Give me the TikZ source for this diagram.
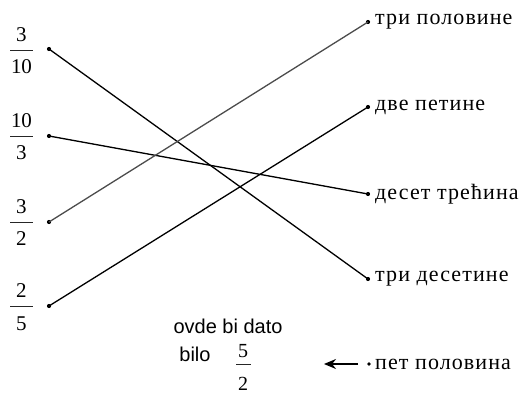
\documentclass[tikz,border=0pt]{standalone}
\usepackage{fontspec}
\setmainfont{Liberation Serif}
\setsansfont{Liberation Sans}
\newfontfamily\wordfont[LetterSpace=5]{Liberation Serif}
\usetikzlibrary{arrows.meta}
\tikzset{
  dot/.style={circle,fill=black,inner sep=0pt,minimum size=4.2pt},
  num/.style={font=\fontsize{21}{24}\selectfont,inner sep=0pt,anchor=base},
  fbar/.style={line width=0.9pt,black!85},
  word/.style={font=\wordfont\fontsize{22}{25}\selectfont,anchor=west,inner sep=0pt},
  link/.style={line width=1.3pt,black},
  note/.style={font=\sffamily\fontsize{20}{23}\selectfont,inner sep=0pt}
}
\begin{document}
\begin{tikzpicture}[x=1pt,y=-1pt]
\useasboundingbox (0,0) rectangle (528,409);
% left fractions
\node[num] (f1n) at (21.5,42) {3};
\node[num] (f1d) at (21.5,74) {10};
\draw[fbar] (10,50) -- (33,50);
\node[num] (f2n) at (21.5,128) {10};
\node[num] (f2d) at (21.5,160) {3};
\draw[fbar] (10,136) -- (33,136);
\node[num] (f3n) at (21.5,214) {3};
\node[num] (f3d) at (21.5,246) {2};
\draw[fbar] (10,222) -- (33,222);
\node[num] (f4n) at (21.5,298) {2};
\node[num] (f4d) at (21.5,330) {5};
\draw[fbar] (10,306) -- (33,306);
% left dots
\node[dot] (l1) at (49,49) {};
\node[dot] (l2) at (49,136) {};
\node[dot] (l3) at (49,222) {};
\node[dot] (l4) at (49,306) {};
% right dots
\node[dot] (r1) at (368,22) {};
\node[dot] (r2) at (368,107) {};
\node[dot] (r3) at (368,194) {};
\node[dot] (r4) at (368,279) {};
\node[dot,minimum size=3.6pt] (r5) at (369,364) {};
% right words
\node[word] (w1) at (375,22) {три половине};
\node[word] (w2) at (375,107) {две петине};
\node[word] (w3) at (375,194) {десет трећина};
\node[word] (w4) at (375,279) {три десетине};
\node[word] (w5) at (375,364) {пет половина};
% connections
\draw[link] (l1.center) -- (r4.center);
\draw[link] (l2.center) -- (r3.center);
\draw[link,black!70] (l3.center) -- (r1.center);
\draw[link] (l4.center) -- (r2.center);
% note
\node[note] (n1) at (228,326) {ovde bi dato};
\node[note] (n2) at (195,354) {bilo};
\node[num,font=\fontsize{20}{23}\selectfont] (n3n) at (243,357) {5};
\node[num,font=\fontsize{20}{23}\selectfont] (n3d) at (243,390) {2};
\draw[fbar] (236,364) -- (251,364);
\coordinate (a1) at (358,364);
\coordinate (a2) at (324,364);
\draw[line width=1.3pt,-{Stealth[length=12pt,width=10pt]}] (a1) -- (a2);
\end{tikzpicture}
\end{document}
